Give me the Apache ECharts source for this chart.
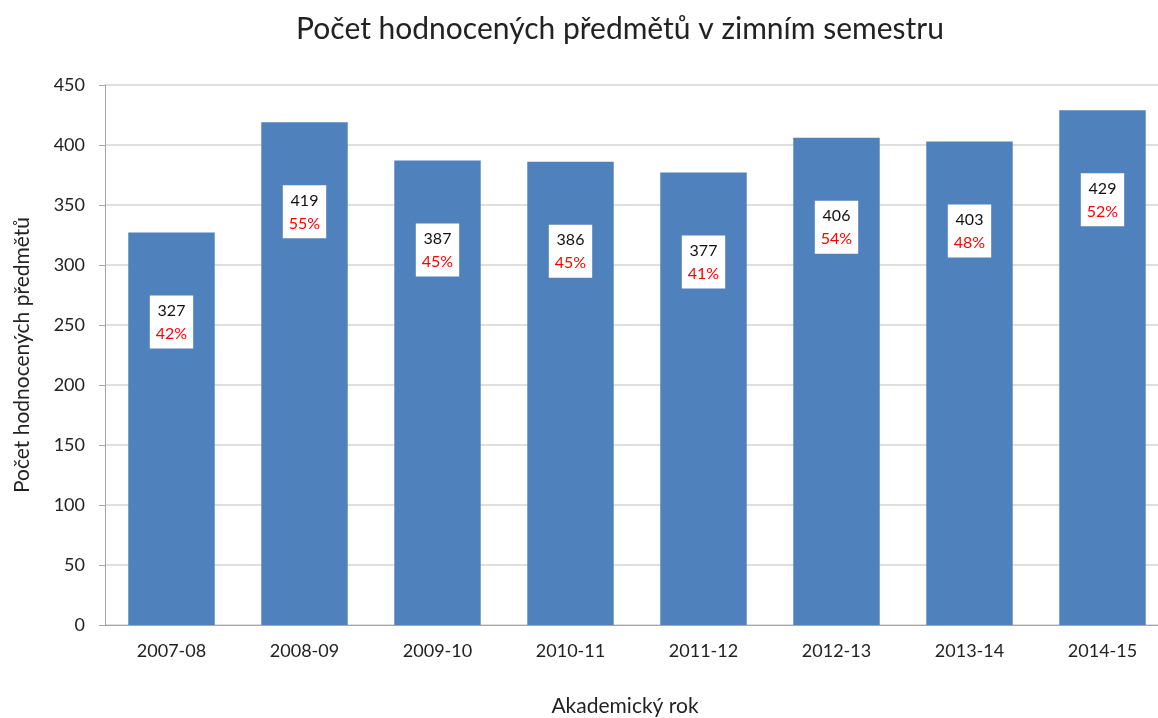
<!DOCTYPE html>
<html>
<head>
<meta charset="utf-8">
<script src="https://cdn.jsdelivr.net/npm/echarts@6/dist/echarts.min.js"></script>
<style>
  html, body { margin: 0; padding: 0; background: #fff; }
  #chart { width: 1158px; height: 718px; }
</style>
</head>
<body>
<div id="chart"></div>
<script>
const years = ["2007-08", "2008-09", "2009-10", "2010-11", "2011-12", "2012-13", "2013-14", "2014-15"];
const counts = [327, 419, 387, 386, 377, 406, 403, 429];
const shares = [42, 55, 45, 45, 41, 54, 48, 52];

const font = "Lato, 'Open Sans', sans-serif";
const chart = echarts.init(document.getElementById("chart"));

chart.setOption({
  animation: false,
  textStyle: { fontFamily: font },
  title: {
    text: "Počet hodnocených předmětů v zimním semestru",
    left: 615,
    textAlign: "center",
    top: 9,
    textStyle: { fontSize: 30, fontWeight: "normal", color: "#222", fontFamily: font },
  },
  // grid runs past the right edge, as in the cropped original
  grid: { left: 105, top: 85, width: 1064, height: 540, outerBoundsMode: "none" },
  xAxis: {
    type: "category",
    data: years,
    name: "Akademický rok",
    nameLocation: "middle",
    nameGap: 71,
    nameTextStyle: { fontSize: 21, color: "#222", padding: [0, 0, 0, -24] },
    axisLine: { lineStyle: { color: "#a6a6a6" } },
    axisTick: { length: 6, lineStyle: { color: "#a6a6a6" } },
    axisLabel: { fontSize: 18, color: "#222", margin: 17 },
  },
  yAxis: {
    type: "value",
    min: 0,
    max: 450,
    interval: 50,
    name: "Počet hodnocených předmětů",
    nameLocation: "middle",
    nameGap: 72,
    nameTextStyle: { fontSize: 21, color: "#222" },
    axisLine: { show: true, lineStyle: { color: "#a6a6a6" } },
    axisTick: { show: true, length: 6, lineStyle: { color: "#a6a6a6" } },
    axisLabel: { fontSize: 18, color: "#222", margin: 20 },
    splitLine: { lineStyle: { color: "#d4d4d4", width: 1.5 } },
  },
  series: [
    {
      type: "bar",
      data: counts,
      barCategoryGap: "35%",
      itemStyle: { color: "#4f81bd" },
      label: {
        show: true,
        position: "insideTop",
        distance: 63,
        backgroundColor: "#fff",
        padding: [4, 6, 3, 6],
        formatter: (p) => "{v|" + p.value + "}\n{p|" + shares[p.dataIndex] + "%}",
        rich: {
          v: { fontSize: 16, color: "#111", lineHeight: 23, fontFamily: font },
          p: { fontSize: 16, color: "#ff0000", lineHeight: 23, fontFamily: font },
        },
      },
    },
  ],
});
</script>
</body>
</html>
